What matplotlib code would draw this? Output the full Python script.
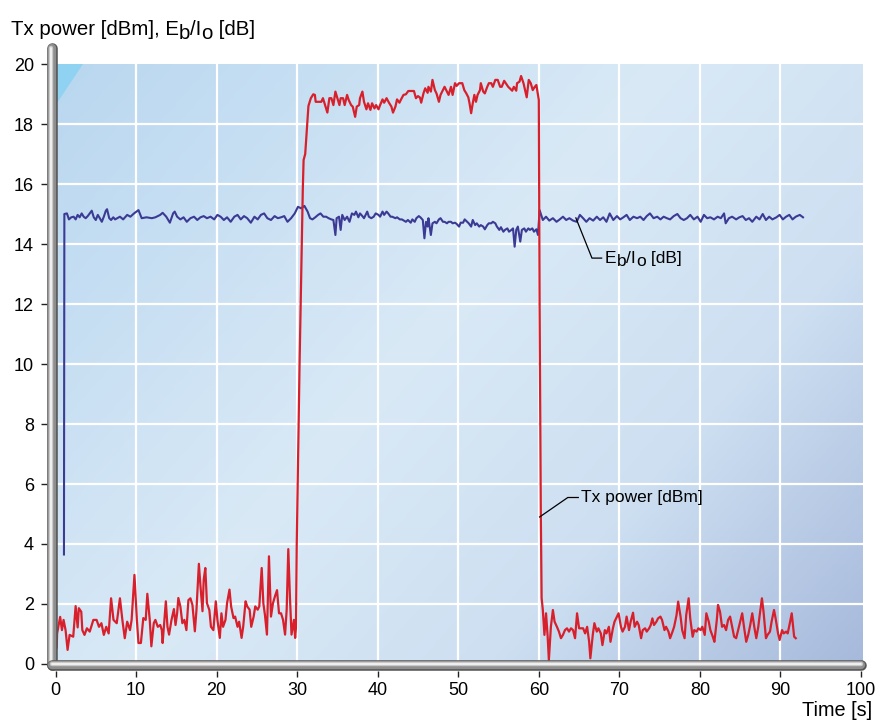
import numpy as np
import matplotlib.pyplot as plt
from matplotlib.colors import LinearSegmentedColormap

plt.rcParams['font.family'] = ['Liberation Sans', 'DejaVu Sans']

# ---- data ----
tx_time = [0.15, 0.2, 0.58, 0.8, 1.0, 1.25, 1.5, 1.75, 2.2, 2.5, 2.75, 2.9, 3.2, 3.33, 3.6, 3.9, 4.25, 4.7, 5.1, 5.4,
           5.7, 6.0, 6.3, 6.6, 6.9, 7.2, 7.6, 8.0, 8.3, 8.6, 8.9, 9.25, 9.45, 9.8, 10.1, 10.3, 10.6, 10.9, 11.2, 11.4,
           11.7, 11.9, 12.2, 12.4, 12.7, 13.0, 13.2, 13.3, 13.7, 13.9, 14.1, 14.4, 14.7, 14.9, 15.1, 15.25, 15.5, 15.75,
           16.0, 16.25, 16.5, 16.75, 17.0, 17.3, 17.5, 17.8, 18.0, 18.25, 18.4, 18.6, 18.8, 19.1, 19.3, 19.6, 19.9,
           20.1, 20.4, 20.6, 20.8, 21.1, 21.3, 21.6, 21.8, 22.1, 22.3, 22.6, 22.8, 23.1, 23.3, 23.6, 23.8, 24.1, 24.3,
           24.6, 24.8, 25.1, 25.3, 25.6, 25.8, 26.0, 26.25, 26.5, 26.75, 27.0, 27.25, 27.5, 27.75, 28.0, 28.25, 28.5,
           28.7, 28.9, 29.1, 29.3, 29.6, 29.75, 29.85,
           29.95, 30.3, 30.7, 30.8, 31.0, 31.25, 31.4, 31.7,
           32.0, 32.2, 32.3, 32.7, 33.0, 33.2, 33.4, 33.75, 34.0, 34.25, 34.5, 34.75, 35.0, 35.25, 35.4, 35.7, 35.9,
           36.2, 36.4, 36.7, 36.9, 37.2, 37.4, 37.7, 37.8, 38.1, 38.3, 38.6, 38.8, 39.1, 39.3, 39.6, 39.8, 40.1, 40.3,
           40.6, 40.8, 41.1, 41.4, 41.7, 41.9, 42.2, 42.4, 42.7, 42.9, 43.2, 43.5, 43.8, 44.2, 44.5, 44.75, 45.0,
           45.25, 45.4, 45.7, 45.9, 46.2, 46.3, 46.6, 46.8, 47.1, 47.3, 47.6, 47.8, 48.1, 48.3, 48.6, 48.8, 49.1,
           49.3, 49.6, 49.8, 50.1, 50.5, 50.75, 51.0, 51.25, 51.4, 51.6, 51.8, 52.0, 52.2, 52.4, 52.7, 52.8, 53.1,
           53.3, 53.6, 53.8, 54.1, 54.3, 54.6, 54.9, 55.2, 55.4, 55.7, 55.9, 56.2, 56.4, 56.7, 56.9, 57.2, 57.3,
           57.6, 57.8, 58.1, 58.3, 58.5, 58.75, 59.0, 59.25, 59.5, 59.7, 59.8, 60.0,
           60.1, 60.25, 60.35, 60.5, 60.7, 60.9, 61.1, 61.25, 61.5, 61.75, 61.96, 62.25, 62.5, 62.75, 63.0, 63.25,
           63.5, 63.75, 64.0, 64.25, 64.5, 64.75, 65.0, 65.25, 65.5, 65.75, 66.0, 66.25, 66.4, 66.7, 66.9, 67.2,
           67.4, 67.7, 67.9, 68.2, 68.4, 68.7, 68.9, 69.2, 69.4, 69.7, 69.9, 70.2, 70.4, 70.7, 70.9, 71.2, 71.4,
           71.7, 71.9, 72.2, 72.4, 72.7, 72.9, 73.2, 73.4, 73.7, 73.9, 74.1, 74.3, 74.6, 74.8, 75.1, 75.3, 75.6,
           75.8, 76.1, 76.3, 76.6, 76.8, 77.1, 77.3, 77.6, 77.8, 78.1, 78.3, 78.6, 78.8, 79.1, 79.3, 79.6, 79.8,
           80.1, 80.3, 80.6, 80.8, 81.1, 81.3, 81.6, 81.8, 82.1, 82.25, 82.5, 82.75, 83.0, 83.25, 83.5, 83.75, 84.0,
           84.25, 84.5, 84.75, 85.0, 85.25, 85.5, 85.75, 86.0, 86.25, 86.5, 86.75, 87.0, 87.25, 87.4, 87.7, 87.9,
           88.2, 88.4, 88.7, 88.9, 89.2, 89.4, 89.7, 89.9, 90.2, 90.4, 90.7, 90.9, 91.2, 91.4, 91.7, 91.9]
tx_power = [0.55, 1.02, 1.57, 1.13, 1.47, 1.13, 0.47, 0.97, 0.91, 1.93, 1.22, 1.86, 1.74, 1.13, 0.97, 1.19, 1.08, 1.47,
            1.47, 1.24, 1.36, 0.97, 1.24, 1.02, 2.19, 1.47, 1.36, 2.19, 1.47, 0.86, 1.41, 1.13, 1.47, 2.97, 1.48, 0.7,
            0.7, 1.53, 1.47, 2.34, 1.47, 0.59, 1.36, 1.47, 1.24, 1.3, 1.13, 0.7, 2.09, 1.24, 0.98, 1.47, 1.83, 1.3,
            1.69, 2.2, 1.92, 1.36, 1.47, 1.13, 2.13, 2.19, 1.97, 1.09, 1.8, 3.34, 2.59, 1.76, 2.81, 3.2, 2.03, 1.8,
            1.24, 1.13, 2.09, 1.47, 0.87, 1.69, 1.24, 1.47, 2.03, 2.48, 1.92, 1.53, 1.58, 1.24, 1.41, 0.87, 1.24,
            2.09, 1.92, 1.81, 1.24, 1.58, 1.92, 1.81, 1.92, 3.2, 2.03, 1.64, 0.98, 3.59, 1.58, 2.03, 2.26, 2.46,
            1.69, 1.69, 1.47, 0.98, 1.81, 3.83, 2.26, 0.98, 1.47, 0.87, 1.2,
            4.0, 10.0, 15.8, 16.8, 17.0, 18.0, 18.6, 18.86,
            18.99, 18.97, 18.74, 18.74, 18.74, 18.86, 18.69, 18.38, 18.86, 18.86, 18.63, 19.08, 18.86, 18.63, 18.86,
            18.86, 18.63, 18.97, 18.8, 18.63, 18.58, 18.24, 18.58, 18.63, 18.86, 19.08, 18.74, 18.49, 18.69, 18.47,
            18.69, 18.52, 18.63, 18.49, 18.63, 18.82, 18.71, 18.86, 18.71, 18.58, 18.38, 18.58, 18.82, 18.71, 18.82,
            18.97, 18.99, 19.1, 19.1, 19.1, 18.86, 18.93, 18.88, 18.71, 19.04, 19.19, 19.04, 19.24, 19.08, 19.47,
            19.13, 19.02, 18.74, 18.97, 19.13, 19.24, 19.08, 18.97, 19.24, 18.97, 19.36, 19.27, 19.36, 19.36, 19.13,
            19.02, 18.89, 18.69, 18.36, 18.69, 18.97, 18.74, 18.97, 19.13, 19.36, 19.08, 19.02, 19.24, 19.36, 19.36,
            19.24, 19.47, 19.47, 19.24, 19.24, 19.44, 19.36, 19.24, 19.19, 19.11, 19.24, 19.11, 19.36, 19.41, 19.6,
            19.36, 19.13, 18.89, 19.47, 19.36, 19.13, 19.24, 19.3, 19.13, 18.8,
            12.0, 5.0, 2.2, 1.8, 0.97, 1.69, 0.91, 0.13, 1.24, 1.8, 1.41, 1.24, 1.08, 0.86, 0.97, 1.13, 1.19, 1.08,
            1.19, 1.13, 0.86, 1.69, 1.19, 1.19, 1.19, 1.02, 1.24, 0.74, 0.19, 0.97, 1.36, 1.08, 1.19, 1.02, 0.63,
            1.13, 1.02, 1.24, 0.74, 1.19, 1.41, 1.58, 1.69, 1.24, 1.08, 1.24, 1.58, 1.13, 1.41, 1.71, 1.24, 1.41,
            1.3, 0.86, 1.13, 1.19, 1.08, 1.19, 1.3, 1.52, 1.3, 1.41, 1.52, 1.58, 1.47, 1.13, 1.24, 1.08, 0.86, 1.08,
            1.24, 1.63, 2.08, 1.58, 1.13, 0.86, 1.63, 2.19, 1.52, 0.91, 1.13, 1.08, 1.19, 1.13, 1.24, 0.97, 1.69,
            1.41, 1.13, 0.91, 0.74, 1.47, 1.97, 1.74, 1.24, 1.3, 1.13, 1.47, 1.58, 1.24, 0.91, 0.86, 1.13, 1.41,
            1.69, 1.19, 0.74, 0.97, 1.3, 1.69, 1.24, 0.86, 1.24, 1.58, 2.19, 1.74, 0.86, 0.97, 1.08, 1.41, 1.8,
            1.52, 1.02, 0.8, 1.13, 1.02, 1.08, 1.02, 1.41, 1.69, 0.91, 0.86]

eb_time = [1.05, 1.1, 1.42, 1.67, 1.96, 2.25, 2.5, 2.75, 3.0, 3.25, 3.5, 3.75, 4.0, 4.25, 4.5, 4.75, 5.0, 5.25, 5.5,
           5.75, 6.0, 6.25, 6.4, 6.67, 6.9, 7.17, 7.4, 8.0, 8.4, 8.9, 9.3, 9.75, 10.3, 10.7, 11.3, 11.96, 12.4, 13.0,
           13.3, 13.75, 14.2, 14.6, 14.8, 15.1, 15.5, 15.9, 16.3, 16.75, 17.2, 17.6, 18.0, 18.4, 18.8, 19.25, 19.7,
           20.1, 20.5, 20.9, 21.3, 21.75, 22.2, 22.6, 23.0, 23.4, 23.8, 24.25, 24.7, 25.1, 25.5, 25.9, 26.3, 26.75,
           27.2, 27.6, 28.0, 28.4, 28.8, 29.25, 29.7, 30.1, 30.5, 30.9, 31.3,
           31.6, 31.9, 32.25, 32.6, 32.9, 33.25, 33.6, 33.9, 34.25, 34.5, 34.75, 34.9, 35.2, 35.4, 35.6, 35.9, 36.2,
           36.5, 36.8, 37.1, 37.3, 37.6, 37.8, 38.1, 38.3, 38.7, 38.9, 39.2, 39.5, 39.75, 40.1, 40.3, 40.6, 40.8,
           41.1, 41.3, 41.6, 41.8, 42.2, 42.4, 42.75, 43.0, 43.25, 43.5, 43.75, 44.1, 44.3, 44.6, 44.8, 45.1, 45.3,
           45.6, 45.8, 46.0, 46.2, 46.3, 46.6, 46.8, 47.1, 47.3, 47.6, 47.8, 48.1, 48.3, 48.6, 48.8, 49.1, 49.3,
           49.6, 49.8, 50.1, 50.3, 50.6, 50.8, 51.1, 51.3, 51.6, 51.8, 52.1, 52.3, 52.6, 52.8, 53.1, 53.3, 53.6,
           53.8, 54.1, 54.3, 54.6, 54.8, 55.1, 55.3, 55.6, 55.8, 56.1, 56.3, 56.6, 56.8, 57.0, 57.2, 57.4, 57.7,
           57.9, 58.2, 58.4, 58.7, 58.9, 59.2, 59.4, 59.7, 59.9, 60.1,
           60.5, 60.9, 61.3, 61.75, 62.2, 62.6, 63.0, 63.4, 63.8, 64.25, 64.7, 65.1, 65.5, 65.9, 66.3, 66.75, 67.2,
           67.6, 68.0, 68.4, 68.8, 69.25, 69.7, 70.1, 70.5, 70.9, 71.3, 71.75, 72.2, 72.6, 73.0, 73.4, 73.8, 74.25,
           74.7, 75.1, 75.5, 75.9, 76.3, 76.75, 77.2, 77.6, 78.0, 78.4, 78.8, 79.25, 79.7, 80.1, 80.5, 80.9, 81.3,
           81.75, 82.2, 82.6, 83.0, 83.2, 83.6, 84.0, 84.5, 84.9, 85.3, 85.7, 86.1, 86.5, 87.0, 87.4, 87.8, 88.2,
           88.6, 89.0, 89.5, 89.9, 90.3, 90.7, 91.1, 91.5, 91.9, 92.4, 92.8]
eb_io = [3.65, 15.0, 15.02, 14.82, 14.89, 14.91, 14.82, 14.97, 14.89, 15.02, 14.91, 14.86, 14.93, 15.02, 15.11, 14.89,
         14.8, 14.97, 14.86, 14.74, 14.91, 15.11, 15.16, 14.86, 14.8, 14.89, 14.82, 14.91, 14.82, 14.97, 14.91,
         15.02, 15.13, 14.86, 14.89, 14.86, 14.89, 14.97, 15.04, 14.91, 14.71, 15.02, 15.08, 14.91, 14.82, 14.89,
         14.74, 14.86, 14.91, 14.8, 14.89, 14.93, 14.86, 14.91, 14.82, 14.97, 14.91, 14.8, 14.89, 14.74, 14.91,
         14.97, 14.82, 14.93, 14.86, 14.71, 14.91, 14.82, 14.97, 15.02, 14.86, 14.8, 14.93, 14.86, 14.89, 14.93,
         14.74, 14.86, 15.02, 15.24, 15.19, 15.27, 15.08,
         14.86, 14.82, 14.89, 14.97, 15.02, 14.91, 14.91, 14.86, 14.82, 14.8, 14.3, 14.86, 14.91, 14.47, 14.97,
         14.8, 14.91, 14.74, 15.02, 14.97, 15.08, 14.89, 15.02, 14.93, 14.86, 15.08, 14.91, 14.86, 14.91, 15.02,
         14.97, 14.91, 15.08, 14.97, 15.08, 15.02, 14.91, 14.91, 14.86, 14.89, 14.82, 14.82, 14.78, 14.74, 14.8,
         14.71, 14.82, 14.74, 14.86, 14.93, 14.89, 14.8, 14.19, 14.74, 14.58, 14.86, 14.3, 14.69, 14.74, 14.69,
         14.82, 14.86, 14.74, 14.74, 14.69, 14.74, 14.74, 14.69, 14.71, 14.67, 14.58, 14.71, 14.71, 14.82, 14.74,
         14.69, 14.58, 14.8, 14.63, 14.69, 14.58, 14.63, 14.58, 14.49, 14.63, 14.69, 14.69, 14.74, 14.69, 14.58,
         14.47, 14.56, 14.41, 14.47, 14.52, 14.41, 14.47, 14.52, 13.91, 14.47, 14.58, 14.08, 14.47, 14.52, 14.41,
         14.52, 14.47, 14.52, 14.41, 14.49, 14.3, 15.13,
         14.8, 14.91, 14.78, 14.86, 14.74, 14.82, 14.91, 14.8, 14.86, 14.78, 14.74, 14.97, 14.86, 14.74, 14.86,
         14.78, 14.91, 14.8, 14.89, 14.74, 15.02, 14.8, 14.93, 14.82, 14.89, 14.97, 14.8, 14.91, 14.86, 14.91,
         14.8, 14.93, 15.02, 14.86, 14.91, 14.82, 14.91, 14.86, 14.82, 14.93, 15.0, 14.86, 14.8, 14.86, 14.97,
         14.82, 14.91, 14.74, 14.97, 14.86, 14.89, 14.82, 14.91, 14.86, 15.02, 14.69, 14.86, 14.91, 14.82, 14.89,
         14.93, 14.8, 14.86, 14.74, 14.91, 14.82, 15.0, 14.8, 14.91, 14.82, 14.89, 14.97, 14.82, 14.91, 14.97,
         14.82, 14.91, 14.97, 14.89]

x_ticks = list(range(0, 101, 10))
y_ticks = list(range(0, 21, 2))

# ---- figure / axes placed in pixel terms ----
W, H = 877, 722
fig = plt.figure(figsize=(W / 100, H / 100), dpi=100)
ax = fig.add_axes([47.3 / W, 1 - 670.7 / H, (866 - 47.3) / W, (670.7 - 43) / H])
sx = 8.055  # px per second
x_lo, x_hi = (47.3 - 55.5) / sx, (866 - 55.5) / sx
y_lo, y_hi = (664 - 670.7) / 30, (664 - 43) / 30
ax.set_xlim(x_lo, x_hi)
ax.set_ylim(y_lo, y_hi)
ax.patch.set_visible(False)
for s in ax.spines.values():
    s.set_visible(False)

# gradient background: bluish top-left, pale middle, grey-blue bottom-right
bx0, bx1 = (57 - 55.5) / sx, (862.7 - 55.5) / sx
gx, gy = np.meshgrid(np.linspace(0, 1, 300), np.linspace(0, 1, 240))
diag = 0.6 * gx + 0.4 * gy
bg_cmap = LinearSegmentedColormap.from_list(
    'bg', [(0.0, '#b9d7f0'), (0.45, '#d9e9f6'), (0.72, '#cddff1'), (1.0, '#a6b9db')])
ax.imshow(diag, cmap=bg_cmap, extent=[bx0, bx1, -0.2, 20], aspect='auto', origin='upper', zorder=0)
ax.fill([bx0, (83 - 55.5) / sx, bx0], [20, 20, (664 - 103) / 30], color='#8fd2f2', lw=0, zorder=0.5)

for v in y_ticks[1:-1]:
    ax.plot([bx0, bx1], [v, v], color='white', lw=1.6, zorder=1)
for v in x_ticks[1:-1]:
    ax.plot([v, v], [-0.2, 20], color='white', lw=1.6, zorder=1)

# series
ax.plot(eb_time, eb_io, color='#3b3a94', lw=1.5, zorder=3)
ax.plot(tx_time, tx_power, color='#d7202b', lw=1.6, zorder=4)

# grey tube axes
lx = (52.3 - 55.5) / sx
by = (664 - 665.3) / 30
ytop = (664 - 48) / 30
for lw, col, dx in [(7.6, '#555555', 0), (6.0, '#8e8e8e', 0), (3.2, '#c9c9c9', -0.12), (1.2, '#f6f6f6', -0.18)]:
    ax.plot([lx + dx, lx + dx], [ytop, by], color=col, lw=lw, solid_capstyle='round', clip_on=False, zorder=7)
for lw, col, dy in [(7.6, '#555555', 0), (6.0, '#8e8e8e', 0), (3.2, '#c9c9c9', 0.04), (1.2, '#f6f6f6', 0.06)]:
    ax.plot([lx, 100.0], [by + dy, by + dy], color=col, lw=lw, solid_capstyle='round', clip_on=False, zorder=8)

ax.set_xticks(x_ticks)
ax.set_yticks(y_ticks)
ax.tick_params(axis='y', direction='out', length=4.5, width=1.0, color='#222222', pad=5, labelsize=13)
ax.tick_params(axis='x', direction='out', length=4, width=1.0, color='#222222', pad=4, labelsize=13)

# text with full-size, lowered subscripts (as in the reference), placed run by run in pixels
renderer = fig.canvas.get_renderer()


def text_runs(x_px, base_px, runs, size):
    x = x_px
    for s, drop in runs:
        t = fig.text(x / W, 1 - (base_px + drop) / H, s, fontsize=size, ha='left', va='baseline', zorder=6)
        x = t.get_window_extent(renderer).x1


text_runs(11, 35, [('Tx power [dBm], E', 0), ('b', 4), ('/I', 0), ('o', 4), (' [dB]', 0)], 14.7)
fig.text(872 / W, 1 - 711 / H, 'Time [s]', fontsize=14.3, ha='right', va='center')

# leader lines + labels
ax.plot([64.6, 66.6, 67.8], [14.87, 13.53, 13.53], color='black', lw=0.9, zorder=5)
text_runs(605, 263, [('E', 0), ('b', 3.5), ('/I', 0), ('o', 3.5), (' [dB]', 0)], 12.5)
ax.plot([60.1, 63.6, 64.9], [4.9, 5.55, 5.55], color='black', lw=0.9, zorder=5)
ax.text(65.2, 5.55, 'Tx power [dBm]', fontsize=12.5, va='center', ha='left', zorder=6)

fig.savefig('out.png', dpi=100)
